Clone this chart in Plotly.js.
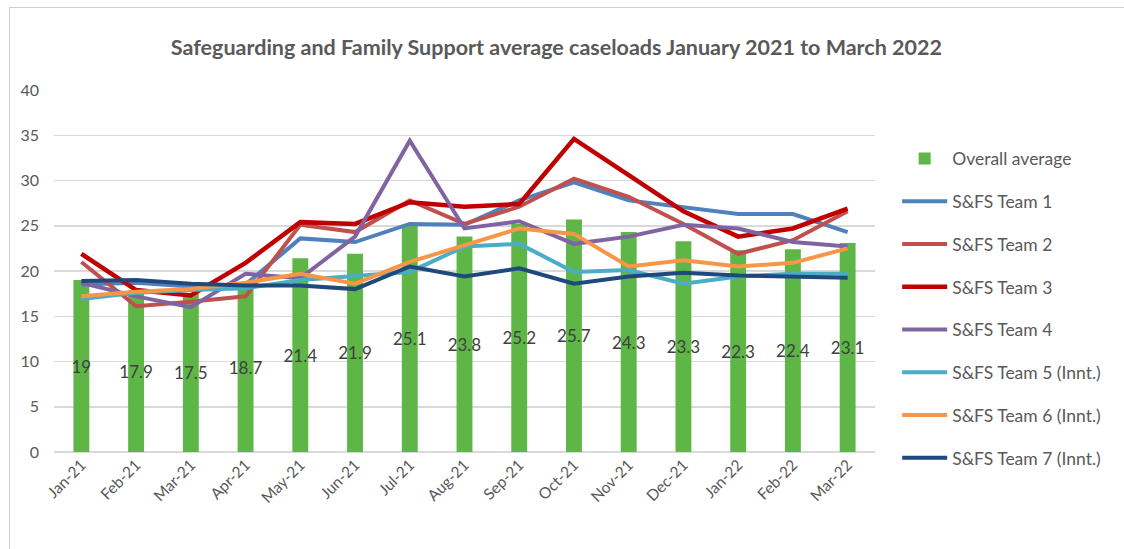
<!DOCTYPE html>
<html>
<head>
<meta charset="utf-8">
<script src="https://cdn.plot.ly/plotly-3.0.1.min.js"></script>
<style>
  html, body { margin: 0; padding: 0; background: #fff; }
  #wrap { position: relative; width: 1124px; height: 549px; overflow: hidden; }
  #chart { position: absolute; left: 0; top: 0; width: 1124px; height: 549px; }
  #frame { position: absolute; left: 9px; top: 7px; width: 1130px; height: 560px; border: 1px solid #d0d0d0; pointer-events: none; }
</style>
</head>
<body>
<div id="wrap">
  <div id="chart"></div>
  <div id="frame"></div>
</div>
<script>
const months = ["Jan-21","Feb-21","Mar-21","Apr-21","May-21","Jun-21","Jul-21","Aug-21","Sep-21","Oct-21","Nov-21","Dec-21","Jan-22","Feb-22","Mar-22"];
const overallAverage = [19, 17.9, 17.5, 18.7, 21.4, 21.9, 25.1, 23.8, 25.2, 25.7, 24.3, 23.3, 22.3, 22.4, 23.1];
const team1 = [18.5, 18.7, 18.3, 18.5, 23.6, 23.2, 25.2, 25.1, 27.8, 29.8, 27.8, 27.1, 26.3, 26.3, 24.3];
const team2 = [21.0, 16.1, 16.6, 17.2, 25.1, 24.3, 27.8, 25.2, 27.1, 30.2, 28.2, 25.2, 21.9, 23.4, 26.6];
const team3 = [21.9, 17.9, 17.3, 20.9, 25.4, 25.2, 27.6, 27.1, 27.4, 34.6, 30.6, 26.6, 23.8, 24.7, 26.9];
const team4 = [18.7, 17.2, 16.0, 19.7, 19.2, 23.8, 34.4, 24.7, 25.5, 23.0, 23.8, 25.1, 24.7, 23.2, 22.7];
const team5 = [16.9, 17.6, 17.9, 18.1, 19.0, 19.5, 19.9, 22.7, 23.0, 19.9, 20.1, 18.6, 19.4, 19.7, 19.7];
const team6 = [17.2, 17.7, 18.0, 18.7, 19.7, 18.6, 21.0, 22.9, 24.7, 24.1, 20.5, 21.2, 20.5, 20.9, 22.5];
const team7 = [18.9, 19.0, 18.6, 18.4, 18.4, 18.0, 20.5, 19.4, 20.3, 18.6, 19.4, 19.8, 19.5, 19.4, 19.25];
const seriesNames = ["S&FS Team 1","S&FS Team 2","S&FS Team 3","S&FS Team 4","S&FS Team 5 (Innt.)","S&FS Team 6 (Innt.)","S&FS Team 7 (Innt.)"];
const seriesValues = [team1, team2, team3, team4, team5, team6, team7];
const seriesColors = ["#4F81BD","#C0504D","#C00000","#8064A2","#4BACC6","#F79646","#1F497D"];

const FONT = "Lato, 'Open Sans', sans-serif";
const GREY = "#595959";

const traces = [{
  type: "bar",
  name: "Overall average",
  x: months,
  y: overallAverage,
  marker: { color: "#5DB646" },
  text: overallAverage.map(v => String(v)),
  textposition: "inside",
  insidetextanchor: "middle",
  textangle: 0,
  constraintext: "none",
  textfont: { family: FONT, size: 17, color: "#404040" },
  legendgroup: "g0",
  hoverinfo: "x+y"
}];
seriesValues.forEach((vals, i) => {
  traces.push({
    type: "scatter",
    mode: "lines",
    name: seriesNames[i],
    x: months,
    y: vals,
    line: { color: seriesColors[i], width: i === 2 ? 4.5 : 4 },
    legendgroup: "g" + (i + 1)
  });
});

const layout = {
  width: 1124,
  height: 549,
  margin: { l: 54, r: 249, t: 90, b: 97 },
  paper_bgcolor: "#ffffff",
  plot_bgcolor: "#ffffff",
  font: { family: FONT, color: GREY },
  title: {
    text: "<b>Safeguarding and Family Support average caseloads January 2021 to March 2022</b>",
    font: { family: FONT, size: 21.5, color: GREY },
    x: 0.495, xanchor: "center", y: 0.913, yanchor: "middle"
  },
  bargap: 0.71,
  showlegend: true,
  legend: {
    x: 1.027, xanchor: "left", y: 0.86, yanchor: "top",
    font: { family: FONT, size: 17.5, color: GREY },
    itemwidth: 45,
    tracegroupgap: 17,
    bgcolor: "rgba(0,0,0,0)"
  },
  xaxis: {
    type: "category",
    tickangle: -45,
    tickfont: { family: FONT, size: 15.5, color: GREY },
    showgrid: false,
    showline: false,
    ticks: "",
    zeroline: false
  },
  yaxis: {
    range: [0, 40],
    dtick: 5,
    tick0: 0,
    tickfont: { family: FONT, size: 16, color: GREY },
    gridcolor: "#d9d9d9",
    gridwidth: 1.5,
    zeroline: true,
    zerolinecolor: "#d9d9d9",
    zerolinewidth: 1.5,
    showline: false,
    ticks: "",
    ticklabelstandoff: 14
  }
};

Plotly.newPlot("chart", traces, layout, { displayModeBar: false, staticPlot: true });
</script>
</body>
</html>
